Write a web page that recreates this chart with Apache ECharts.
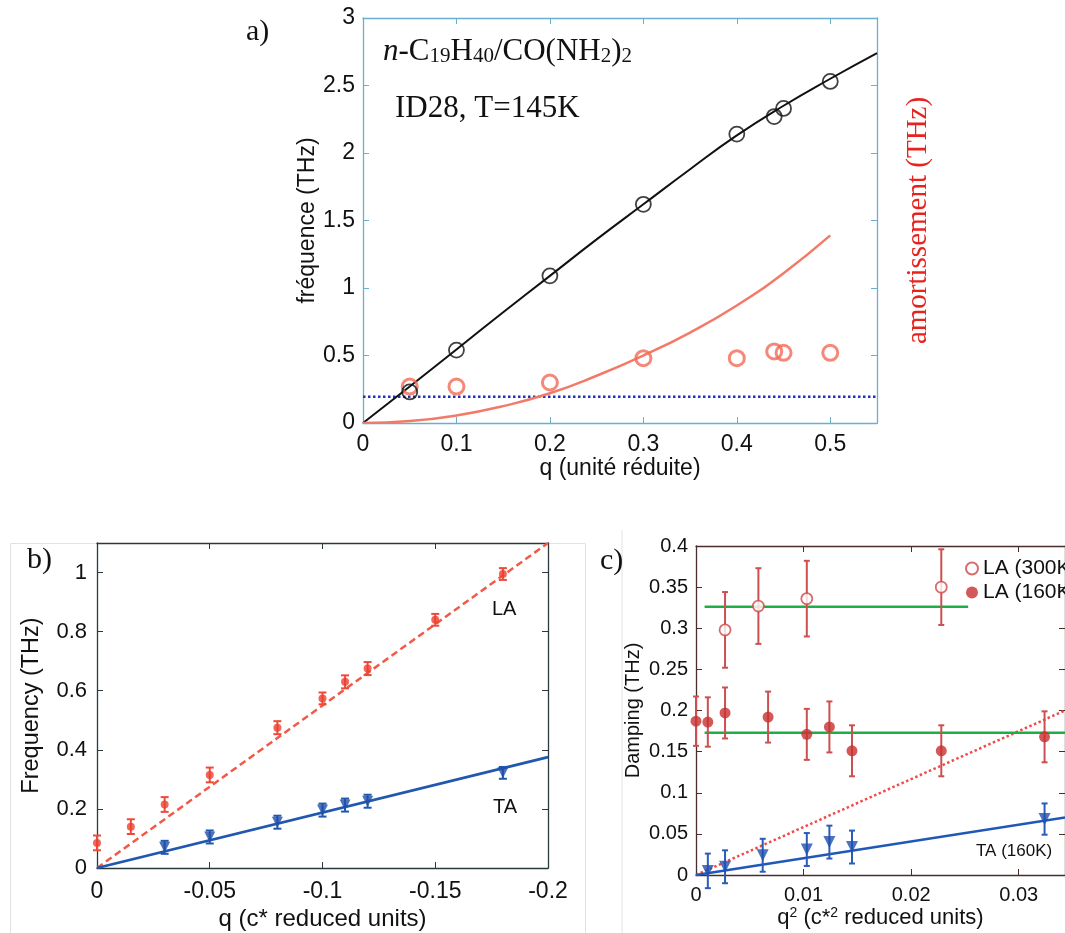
<!DOCTYPE html>
<html><head><meta charset="utf-8">
<script src="https://cdn.jsdelivr.net/npm/echarts@6/dist/echarts.min.js"></script>
<style>html,body{margin:0;padding:0;background:#fff}#c{width:1065px;height:933px}</style>
</head><body><div id="c"></div>
<script>
// ---------- Panel a data ----------
const aQ = [0.05, 0.1, 0.2, 0.3, 0.4, 0.44, 0.45, 0.5];
const aFreq = [0.23, 0.54, 1.09, 1.62, 2.14, 2.27, 2.33, 2.53];
const aDamp = [0.27, 0.27, 0.30, 0.48, 0.48, 0.53, 0.52, 0.52];
const aFitQ = [0, 0.05, 0.1, 0.15, 0.2, 0.25, 0.3, 0.35, 0.4, 0.45, 0.5, 0.55];
const aFitFreq = [0, 0.27, 0.545, 0.82, 1.09, 1.36, 1.62, 1.88, 2.13, 2.35, 2.55, 2.74];
const aFitDampQ = [0, 0.05, 0.1, 0.15, 0.2, 0.25, 0.3, 0.35, 0.4, 0.45, 0.5];
const aFitDamp = [0, 0.014, 0.056, 0.125, 0.22, 0.35, 0.50, 0.67, 0.87, 1.11, 1.39];
const aLevel = 0.195;

// ---------- Panel b data ----------
const bLAq = [0, -0.015, -0.03, -0.05, -0.08, -0.1, -0.11, -0.12, -0.15, -0.18];
const bLAf = [0.085, 0.14, 0.215, 0.315, 0.475, 0.574, 0.63, 0.675, 0.84, 0.995];
const bLAerr = [0.025, 0.025, 0.025, 0.025, 0.022, 0.02, 0.022, 0.022, 0.02, 0.02];
const bTAq = [-0.03, -0.05, -0.08, -0.1, -0.11, -0.12, -0.18];
const bTAf = [0.07, 0.105, 0.155, 0.196, 0.213, 0.226, 0.322];
const bTAerr = [0.022, 0.022, 0.022, 0.022, 0.022, 0.022, 0.02];
const bLAfitQ = [0, -0.2];
const bLAfit = [0, 1.1];
const bTAfitQ = [0, -0.2];
const bTAfit = [0, 0.375];

// ---------- Panel c data ----------
const c300q = [0.0027, 0.0058, 0.0103, 0.0228];
const c300d = [0.298, 0.327, 0.336, 0.35];
const c300err = [0.046, 0.046, 0.046, 0.046];
const c160q = [0, 0.0011, 0.0027, 0.0067, 0.0103, 0.0124, 0.0145, 0.0228, 0.0324];
const c160d = [0.187, 0.186, 0.197, 0.192, 0.171, 0.18, 0.151, 0.151, 0.168];
const c160err = [0.03, 0.03, 0.031, 0.031, 0.031, 0.031, 0.031, 0.031, 0.031];
const cTAq = [0.0011, 0.0027, 0.0062, 0.0103, 0.0124, 0.0145, 0.0324];
const cTAd = [0.005, 0.01, 0.024, 0.031, 0.04, 0.034, 0.068];
const cTAerr = [0.021, 0.02, 0.02, 0.02, 0.02, 0.02, 0.019];
const cTAfitQ = [0, 0.0343];
const cTAfit = [0, 0.07];
const cLAfitQ = [0, 0.0343];
const cLAfit = [0, 0.2];
const cGreen300Q = [0.0008, 0.0253];
const cGreen300 = [0.326, 0.326];
const cGreen160Q = [0.0008, 0.0343];
const cGreen160 = [0.173, 0.173];

const zip = (xs, ys) => xs.map((x, i) => [x, ys[i]]);
const errData = (xs, ys, es) => xs.map((x, i) => [x, ys[i] - es[i], ys[i] + es[i]]);

function errRender(color, cap, lw) {
  return function (params, api) {
    const x = api.value(0), lo = api.value(1), hi = api.value(2);
    const p1 = api.coord([x, lo]), p2 = api.coord([x, hi]);
    const st = { stroke: color, lineWidth: lw };
    return { type: 'group', children: [
      { type: 'line', shape: { x1: p1[0], y1: p1[1], x2: p2[0], y2: p2[1] }, style: st },
      { type: 'line', shape: { x1: p1[0] - cap, y1: p1[1], x2: p1[0] + cap, y2: p1[1] }, style: st },
      { type: 'line', shape: { x1: p2[0] - cap, y1: p2[1], x2: p2[0] + cap, y2: p2[1] }, style: st }
    ]};
  };
}

const sans = 'Liberation Sans, Arial, sans-serif';
const serif = 'Liberation Serif, Times New Roman, serif';

function mkX(grid, min, max, interval, color, opts) {
  return Object.assign({
    type: 'value', gridIndex: grid, min, max, interval, position: 'bottom',
    axisLine: { show: true, onZero: false, lineStyle: { color, width: 1.3 } },
    axisTick: { show: true, inside: true, length: 6, lineStyle: { color } },
    axisLabel: { show: true, color: '#111', fontFamily: sans, fontSize: 20, margin: 10 },
    splitLine: { show: false }
  }, opts || {});
}
function mkY(grid, min, max, interval, color, opts) {
  return Object.assign({
    type: 'value', gridIndex: grid, min, max, interval, position: 'left',
    axisLine: { show: true, onZero: false, lineStyle: { color, width: 1.3 } },
    axisTick: { show: true, inside: true, length: 6, lineStyle: { color } },
    axisLabel: { show: true, color: '#111', fontFamily: sans, fontSize: 20, margin: 8 },
    splitLine: { show: false }
  }, opts || {});
}
const hideLbl = { axisLabel: { show: false } };

const aCol = '#6aaed0', bCol = '#2a3a3c', cCol = '#4a2c2c';

const option = {
  backgroundColor: '#fff',
  animation: false,
  grid: [
    { left: 363, top: 18, width: 514, height: 405 },
    { left: 97, top: 543, width: 451, height: 325 },
    { left: 696, top: 546, width: 369, height: 329 }
  ],
  xAxis: [
    mkX(0, 0, 0.55, 0.1, aCol, { name: 'q (unité réduite)', nameLocation: 'middle', nameGap: 31,
      axisLabel: { color: '#111', fontFamily: sans, fontSize: 23, margin: 10, showMaxLabel: false },
      nameTextStyle: { color: '#111', fontFamily: sans, fontSize: 23 } }),
    mkX(0, 0, 0.55, 0.1, aCol, Object.assign({ position: 'top' }, hideLbl)),
    mkX(1, -0.2, 0, 0.05, bCol, { inverse: true, name: 'q (c* reduced units)', nameLocation: 'middle', nameGap: 39,
      axisLabel: { color: '#111', fontFamily: sans, fontSize: 23, margin: 12 },
      nameTextStyle: { color: '#111', fontFamily: sans, fontSize: 24 } }),
    mkX(1, -0.2, 0, 0.05, bCol, Object.assign({ inverse: true, position: 'top' }, hideLbl)),
    mkX(2, 0, 0.0343, 0.01, cCol, { name: '{n|q}{s|2}{n| (c*}{s|2}{n| reduced units)}', nameLocation: 'middle', nameGap: 31,
      axisLabel: { color: '#111', fontFamily: sans, fontSize: 20, margin: 10 },
      nameTextStyle: { color: '#111', fontFamily: sans, fontSize: 22,
        rich: { n: { fontFamily: sans, fontSize: 22, color: '#111' },
                s: { fontFamily: sans, fontSize: 14, color: '#111', verticalAlign: 'top', padding: [0, 0, 10, 0] } } } }),
    mkX(2, 0, 0.0343, 0.01, cCol, Object.assign({ position: 'top' }, hideLbl))
  ],
  yAxis: [
    mkY(0, 0, 3, 0.5, aCol, { name: 'fréquence (THz)', nameLocation: 'middle', nameGap: 44, nameRotate: 90,
      axisLabel: { color: '#111', fontFamily: sans, fontSize: 23, margin: 8 },
      nameTextStyle: { color: '#111', fontFamily: sans, fontSize: 23 } }),
    mkY(0, 0, 3, 0.5, aCol, { position: 'right', axisLabel: { show: false },
      name: 'amortissement (THz)', nameLocation: 'middle', nameGap: 27, nameRotate: 90,
      nameTextStyle: { color: '#e8231e', fontFamily: serif, fontSize: 29 } }),
    mkY(1, 0, 1.1, 0.2, bCol, { name: 'Frequency (THz)', nameLocation: 'middle', nameGap: 53, nameRotate: 90,
      axisLabel: { color: '#111', fontFamily: sans, fontSize: 22, margin: 10, showMaxLabel: false },
      nameTextStyle: { color: '#111', fontFamily: sans, fontSize: 23.5 } }),
    mkY(1, 0, 1.1, 0.2, bCol, Object.assign({ position: 'right' }, hideLbl)),
    mkY(2, 0, 0.4, 0.05, cCol, { name: 'Damping (THz)', nameLocation: 'middle', nameGap: 53, nameRotate: 90,
      axisLabel: { color: '#111', fontFamily: sans, fontSize: 20, margin: 8 },
      nameTextStyle: { color: '#111', fontFamily: sans, fontSize: 20 } }),
    mkY(2, 0, 0.4, 0.05, cCol, Object.assign({ position: 'right' }, hideLbl))
  ],
  legend: {
    left: 960, top: 553, orient: 'vertical', itemGap: 3, itemWidth: 12, itemHeight: 12,
    textStyle: { fontFamily: sans, fontSize: 21, color: '#111' },
    data: ['LA (300K)', 'LA (160K)']
  },
  series: [
    // ---- panel a ----
    { type: 'line', xAxisIndex: 0, yAxisIndex: 0, data: zip(aFitQ, aFitFreq), smooth: true, symbol: 'none',
      lineStyle: { color: '#111', width: 2 }, z: 3 },
    { type: 'line', xAxisIndex: 0, yAxisIndex: 0, data: zip(aFitDampQ, aFitDamp), smooth: true, symbol: 'none',
      lineStyle: { color: '#f47a68', width: 2.5 }, z: 3 },
    { type: 'line', xAxisIndex: 0, yAxisIndex: 0, data: [[0, aLevel], [0.55, aLevel]], symbol: 'none',
      lineStyle: { color: '#2233bb', width: 2.5, type: 'dotted' }, z: 2 },
    { type: 'scatter', xAxisIndex: 0, yAxisIndex: 0, data: zip(aQ, aDamp), symbol: 'circle', symbolSize: 15,
      itemStyle: { color: 'transparent', borderColor: '#f26a58', borderWidth: 3 }, z: 4 },
    { type: 'scatter', xAxisIndex: 0, yAxisIndex: 0, data: zip(aQ, aFreq), symbol: 'circle', symbolSize: 15,
      itemStyle: { color: 'transparent', borderColor: '#111', borderWidth: 1.8 }, z: 5 },
    // ---- panel b ----
    { type: 'line', xAxisIndex: 2, yAxisIndex: 2, data: zip(bLAfitQ, bLAfit), symbol: 'none',
      lineStyle: { color: '#f25a48', width: 2.5, type: [7, 4] }, z: 2 },
    { type: 'line', xAxisIndex: 2, yAxisIndex: 2, data: zip(bTAfitQ, bTAfit), symbol: 'none',
      lineStyle: { color: '#2058b0', width: 2.8 }, z: 2 },
    { type: 'custom', xAxisIndex: 2, yAxisIndex: 2, data: errData(bLAq, bLAf, bLAerr),
      renderItem: errRender('#ee4a3a', 4, 2), z: 3 },
    { type: 'custom', xAxisIndex: 2, yAxisIndex: 2, data: errData(bTAq, bTAf, bTAerr),
      renderItem: errRender('#2058b0', 4, 2), z: 3 },
    { type: 'scatter', xAxisIndex: 2, yAxisIndex: 2, data: zip(bLAq, bLAf), symbol: 'circle', symbolSize: 8,
      itemStyle: { color: '#ee4030' }, z: 4 },
    { type: 'scatter', xAxisIndex: 2, yAxisIndex: 2, data: zip(bTAq, bTAf), symbol: 'triangle', symbolRotate: 180,
      symbolSize: 11, itemStyle: { color: '#1f4fa8' }, z: 4 },
    // ---- panel c ----
    { type: 'line', xAxisIndex: 4, yAxisIndex: 4, data: zip(cLAfitQ, cLAfit), symbol: 'none',
      lineStyle: { color: '#f24a48', width: 2.5, type: 'dotted' }, z: 2 },
    { type: 'line', xAxisIndex: 4, yAxisIndex: 4, data: zip(cTAfitQ, cTAfit), symbol: 'none',
      lineStyle: { color: '#2058b8', width: 2.5 }, z: 2 },
    { type: 'line', xAxisIndex: 4, yAxisIndex: 4, data: zip(cGreen300Q, cGreen300), symbol: 'none',
      lineStyle: { color: '#1eae48', width: 2.5 }, z: 2 },
    { type: 'line', xAxisIndex: 4, yAxisIndex: 4, data: zip(cGreen160Q, cGreen160), symbol: 'none',
      lineStyle: { color: '#1eae48', width: 2.5 }, z: 2 },
    { type: 'custom', xAxisIndex: 4, yAxisIndex: 4, data: errData(c300q, c300d, c300err),
      renderItem: errRender('#cc5050', 3, 2), z: 3 },
    { type: 'custom', xAxisIndex: 4, yAxisIndex: 4, data: errData(c160q, c160d, c160err),
      renderItem: errRender('#cc5050', 3, 2), z: 3 },
    { type: 'custom', xAxisIndex: 4, yAxisIndex: 4, data: errData(cTAq, cTAd, cTAerr),
      renderItem: errRender('#2a5cb8', 3, 2), z: 3 },
    { name: 'LA (300K)', type: 'scatter', xAxisIndex: 4, yAxisIndex: 4, data: zip(c300q, c300d), symbol: 'circle',
      symbolSize: 11, itemStyle: { color: '#fff', borderColor: '#d04848', borderWidth: 1.8 }, z: 4 },
    { name: 'LA (160K)', type: 'scatter', xAxisIndex: 4, yAxisIndex: 4, data: zip(c160q, c160d), symbol: 'circle',
      symbolSize: 11, itemStyle: { color: '#c83030' }, z: 4 },
    { type: 'scatter', xAxisIndex: 4, yAxisIndex: 4, data: zip(cTAq, cTAd), symbol: 'triangle', symbolRotate: 180,
      symbolSize: 12, itemStyle: { color: '#1f4fb0' }, z: 4 }
  ],
  graphic: [
    { type: 'rect', left: 8, top: 541, shape: { width: 575, height: 400 }, style: { fill: 'none', stroke: '#e2e2e2', lineWidth: 1 }, z: -1 },
    { type: 'line', shape: { x1: 622, y1: 530, x2: 622, y2: 933 }, style: { stroke: '#e2e2e2', lineWidth: 1 }, z: -1 },
    { type: 'text', left: 246, top: 17, style: { text: 'a)', font: '30px ' + serif, fill: '#111' } },
    { type: 'text', left: 27, top: 545, style: { text: 'b)', font: '30px ' + serif, fill: '#111' } },
    { type: 'text', left: 600, top: 546, style: { text: 'c)', font: '30px ' + serif, fill: '#111' } },
    { type: 'text', left: 383, top: 36, style: {
        text: '{i|n}{r|-C}{s|19}{r|H}{s|40}{r|/CO(NH}{s|2}{r|)}{s|2}',
        rich: {
          i: { fontFamily: serif, fontSize: 31, fontStyle: 'italic', fill: '#111', color: '#111' },
          r: { fontFamily: serif, fontSize: 31, fill: '#111', color: '#111' },
          s: { fontFamily: serif, fontSize: 21, fill: '#111', color: '#111', verticalAlign: 'bottom', padding: [10, 0, 0, 0] }
        } } },
    { type: 'text', left: 395, top: 93, style: { text: 'ID28, T=145K', font: '31px ' + serif, fill: '#111' } },
    { type: 'text', left: 492, top: 599, style: { text: 'LA', font: '20px ' + sans, fill: '#111' } },
    { type: 'text', left: 493, top: 797, style: { text: 'TA', font: '20px ' + sans, fill: '#111' } },
    { type: 'text', left: 976, top: 843, style: { text: 'TA (160K)', font: '17px ' + sans, fill: '#111' } }
  ]
};
const chart = echarts.init(document.getElementById('c'), null, { renderer: 'canvas' });
chart.setOption(option);
</script></body></html>
